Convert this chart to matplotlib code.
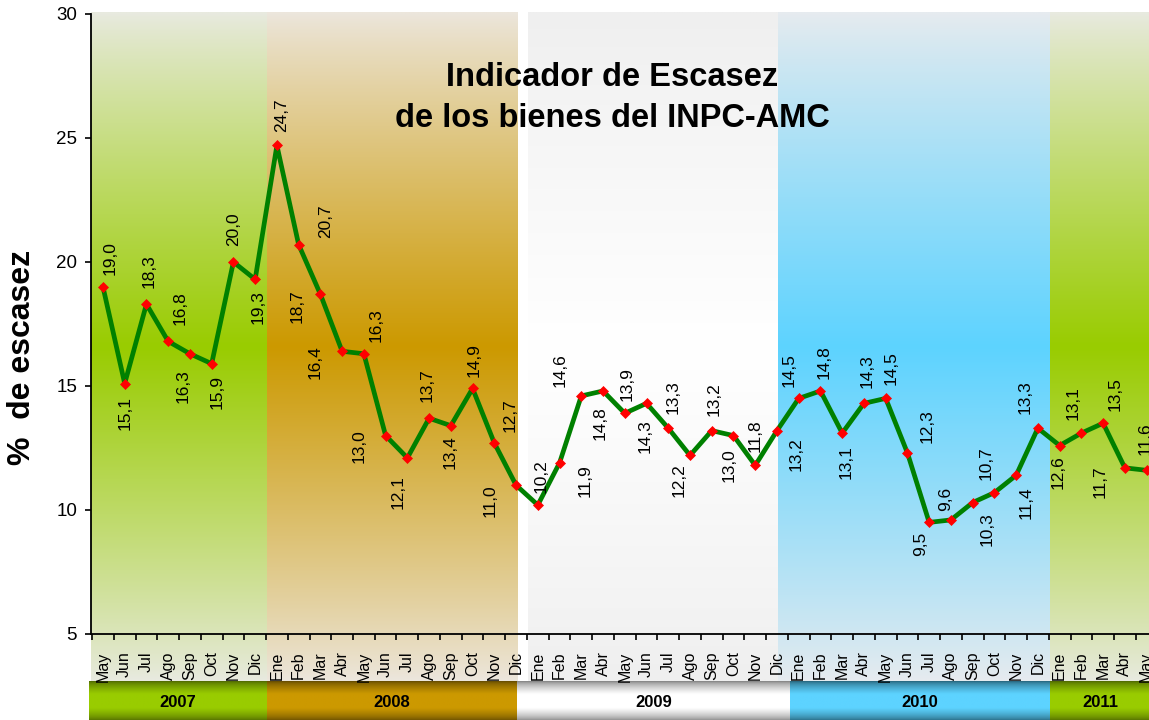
import numpy as np
import matplotlib.pyplot as plt
from matplotlib.colors import to_rgb

plt.rcParams['font.family'] = ['Liberation Sans', 'DejaVu Sans']

# datos
meses = ['May', 'Jun', 'Jul', 'Ago', 'Sep', 'Oct', 'Nov', 'Dic',
         'Ene', 'Feb', 'Mar', 'Abr', 'May', 'Jun', 'Jul', 'Ago', 'Sep', 'Oct', 'Nov', 'Dic',
         'Ene', 'Feb', 'Mar', 'Abr', 'May', 'Jun', 'Jul', 'Ago', 'Sep', 'Oct', 'Nov', 'Dic',
         'Ene', 'Feb', 'Mar', 'Abr', 'May', 'Jun', 'Jul', 'Ago', 'Sep', 'Oct', 'Nov', 'Dic',
         'Ene', 'Feb', 'Mar', 'Abr', 'May']
escasez = [19.0, 15.1, 18.3, 16.8, 16.3, 15.9, 20.0, 19.3,
           24.7, 20.7, 18.7, 16.4, 16.3, 13.0, 12.1, 13.7, 13.4, 14.9, 12.7, 11.0,
           10.2, 11.9, 14.6, 14.8, 13.9, 14.3, 13.3, 12.2, 13.2, 13.0, 11.8, 13.2,
           14.5, 14.8, 13.1, 14.3, 14.5, 12.3, 9.5, 9.6, 10.3, 10.7, 11.4, 13.3,
           12.6, 13.1, 13.5, 11.7, 11.6]
anios = ['2007', '2008', '2009', '2010', '2011']

# posicion de etiquetas (px respecto al punto, y hacia abajo)
offsets = [(7, -29), (0, 29), (3, -33), (12, -33), (-7, 32), (5, 28), (0, -33), (3, 28),
           (5, -30), (27, -23), (-23, 12), (-27, 11), (12, -29), (-26, 11), (-9, 34), (-2, -33),
           (-1, 26), (2, -28), (16, -28), (-26, 15),
           (3, -29), (26, 18), (-21, -26), (-3, 32), (2, -29), (-1, 33), (5, -31), (-11, 25),
           (2, -32), (-4, 30), (0, -30), (19, 23),
           (-10, -28), (4, -29), (4, 29), (3, -32), (5, -30), (20, -27), (-9, 21), (-5, -21),
           (14, 27), (-8, -30), (10, 27), (-13, -31),
           (-2, 27), (-8, -30), (12, -29), (-25, 14), (-1, -32)]

# fondos por anio
franjas = [(-0.55, 7.55), (7.55, 19.08), (19.55, 31.05), (31.05, 43.56), (43.56, 49)]
barras = [(-0.64, 7.55), (7.55, 19.05), (19.05, 31.6), (31.6, 43.56), (43.56, 49)]
col_centro = ['#99cc00', '#cc9900', '#ffffff', '#5dd3ff', '#99cc00']
col_borde = ['#e8eadf', '#ece6dc', '#efefef', '#e6ebef', '#e8eadf']
bar_centro = ['#99cc00', '#cc9900', '#ffffff', '#5dd3ff', '#99cc00']
bar_borde = ['#4a6200', '#5e4600', '#7a7a7a', '#235e74', '#4a6200']


def degradado(c_borde, c_centro, n=200, expo=1.0, meseta=0.0):
    t = np.linspace(0, 1, n)
    w = 1 - np.abs(t - 0.5) / 0.5
    w = np.clip(w / (1 - meseta), 0, 1) ** expo
    a = np.array(to_rgb(c_borde))
    b = np.array(to_rgb(c_centro))
    img = a[None, :] + (b - a)[None, :] * w[:, None]
    return img[:, None, :]


fig = plt.figure(figsize=(11.49, 7.20), dpi=100)
ax = fig.add_axes([91 / 1149, 86 / 720, 1058 / 1149, 620 / 720])
ax.set_facecolor('none')

x = np.arange(len(escasez))

y_top = 30.04
y_bot = 3.1
for (x0, x1), cb, cc in zip(franjas, col_borde, col_centro):
    ax.imshow(degradado(cb, cc, expo=0.9), extent=(x0, x1, y_bot, y_top), aspect='auto',
              clip_on=False, zorder=0, interpolation='bilinear')

for (x0, x1), cb, cc, lab in zip(barras, bar_borde, bar_centro, anios):
    ax.imshow(degradado(cb, cc, expo=0.6, meseta=0.35), extent=(x0, x1, 1.5, y_bot), aspect='auto',
              clip_on=False, zorder=0, interpolation='bilinear')
    xc = (x0 + min(x1, 48.15)) / 2
    ax.text(xc, (1.5 + y_bot) / 2 - 0.05, lab, ha='center', va='center',
            fontsize=12, fontweight='bold', clip_on=False)

ax.plot(x, escasez, color='#008000', lw=3.4, zorder=3,
        marker='D', markersize=5, markerfacecolor='#ff0000', markeredgecolor='#ff0000',
        markeredgewidth=0.5)

for xi, v, (dx, dy) in zip(x, escasez, offsets):
    ax.annotate(f'{v:.1f}'.replace('.', ','), (xi, v), xytext=(dx, -dy),
                textcoords='offset pixels', rotation=90, ha='center', va='center',
                fontsize=12.5, zorder=4)

ax.set_yticks([5, 10, 15, 20, 25, 30])
ax.tick_params(axis='y', labelsize=13.5, length=4.5, width=1.2, pad=5.5)

ax.set_xticks(np.arange(-0.5, 48.6, 1))
ax.set_xticklabels([])
ax.set_xticks(x, minor=True)
ax.set_xticklabels(meses, minor=True, rotation=90, fontsize=11.5)
ax.tick_params(axis='x', which='major', length=4, width=1.2)
ax.tick_params(axis='x', which='minor', length=0, pad=12.5)

ax.set_xlim(-0.55, 48.11)
ax.set_ylim(5, 30)

for s in ['top', 'right']:
    ax.spines[s].set_visible(False)
for s in ['left', 'bottom']:
    ax.spines[s].set_linewidth(1.3)
    ax.spines[s].set_zorder(5)

fig.text(22 / 1149, 1 - 357 / 720, '%  de escasez', rotation=90, ha='center', va='center',
         fontsize=23, fontweight='bold')
fig.text(612 / 1149, 1 - 98 / 720, 'Indicador de Escasez\nde los bienes del INPC-AMC',
         ha='center', va='center', fontsize=23.5, fontweight='bold', linespacing=1.45)

fig.savefig('out.png', dpi=100)
